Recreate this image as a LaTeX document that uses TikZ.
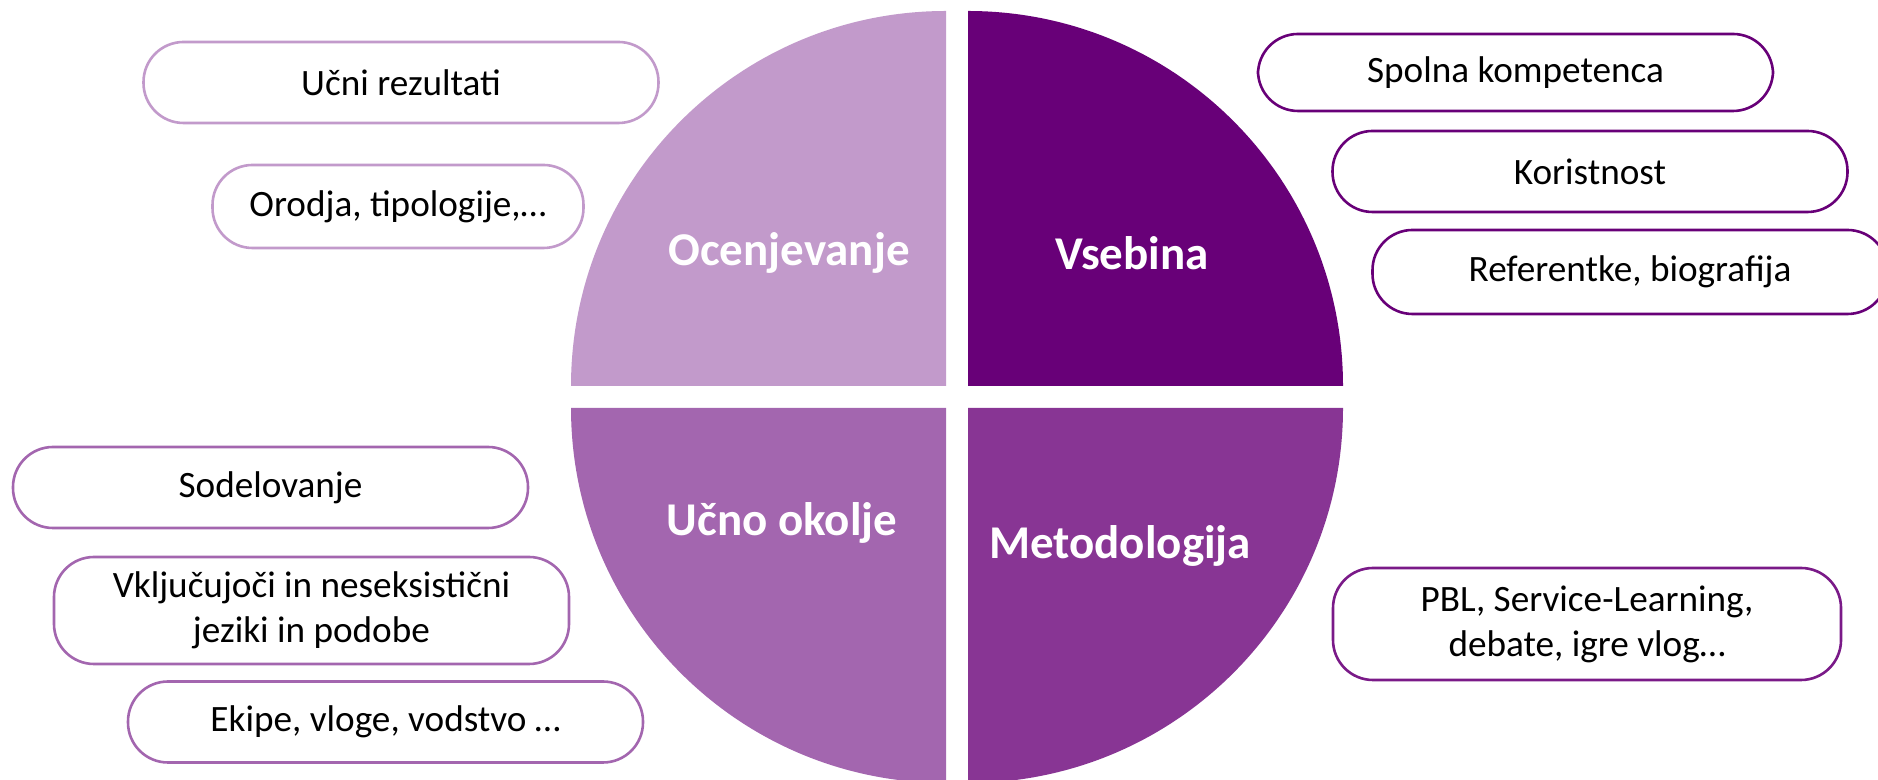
\documentclass[tikz,border=0pt]{standalone}
\usepackage{fontspec}
\setmainfont{Carlito}
\usepackage{xcolor}
\usetikzlibrary{positioning, calc}

\definecolor{lilac}{HTML}{C29ACB}
\definecolor{plum}{HTML}{680078}
\definecolor{orchid}{HTML}{A366AF}
\definecolor{grape}{HTML}{883594}
\definecolor{grapeline}{HTML}{7A1A88}

\begin{document}
\begin{tikzpicture}[x=0.5pt, y=0.5pt,
    pill/.style={draw=#1, line width=1.3pt, fill=white, rounded corners=20pt,
        minimum width=257.5pt, minimum height=40.5pt, inner sep=0pt, align=center,
        font=\fontsize{18.6}{22.5}\selectfont},
    quarter/.style={text=white, font=\fontsize{23.5}{28}\selectfont\bfseries}]
    \useasboundingbox (0,0) rectangle (1878,780);

    \fill[lilac]  (946,394) -- ++(-375,0) arc[start angle=180, end angle=90, radius=187.5pt] -- cycle;
    \fill[plum]   (968,394) -- ++(0,375) arc[start angle=90, end angle=0, radius=187.5pt] -- cycle;
    \fill[orchid] (946,372) -- ++(0,-375) arc[start angle=270, end angle=180, radius=187.5pt] -- cycle;
    \fill[grape]  (968,372) -- ++(375,0) arc[start angle=0, end angle=-90, radius=187.5pt] -- cycle;

    \node[quarter] (ocen) at (789,527) {Ocenjevanje};
    \node[quarter] (vseb) at (1132,527) {Vsebina};
    \node[quarter] (okol) at (782,257) {Učno okolje};
    \node[quarter] (meto) at (1120,234) {Metodologija};

    \node[pill=lilac] (rezu) at (401,697.5) {Učni rezultati};
    \node[pill=lilac, minimum width=185.5pt, minimum height=41.5pt] (orod) at (398,573.5) {Orodja, tipologije,…};

    \node[pill=orchid] (sode) at (270.5,292.5) {Sodelovanje};
    \node[pill=orchid, minimum height=53.5pt] (vklj) at (311.5,169.5) {Vključujoči in neseksistični\\jeziki in podobe};
    \node[pill=orchid] (ekip) at (385.5,58) {Ekipe, vloge, vodstvo …};

    \node[pill=plum, minimum height=38.5pt] (spol) at (1515.5,707.5) {Spolna kompetenca};
    \node[pill=plum] (kori) at (1590,608.5) {Koristnost};
    \node[pill=plum, minimum height=42pt] (refe) at (1630,508) {Referentke, biografija};

    \node[pill=grapeline, minimum width=254pt, minimum height=56pt] (pbl) at (1587,156) {PBL, Service-Learning,\\debate, igre vlog…};
\end{tikzpicture}
\end{document}
